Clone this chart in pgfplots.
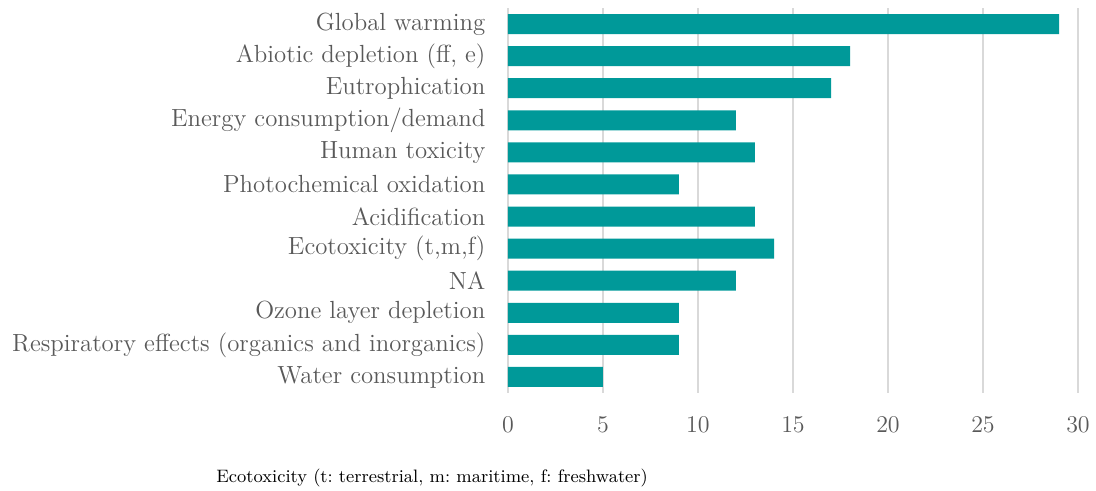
\documentclass[border=0pt]{standalone}
\usepackage{pgfplots}
\pgfplotsset{compat=1.18}
\definecolor{barteal}{RGB}{0,153,153}
\definecolor{labgray}{RGB}{89,89,89}
\definecolor{gridgray}{RGB}{217,217,217}
\begin{document}
\frenchspacing
\begin{tikzpicture}
\path[use as bounding box] (-254pt,-49pt) rectangle (294pt,196.5pt);
\begin{axis}[
  at={(0,0)}, anchor=south west,
  scale only axis, width=285pt, height=192.5pt,
  xbar, bar width=10pt,
  xmin=0, xmax=30, ymin=-0.5, ymax=11.5,
  xtick={0,5,...,30},
  ytick={0,...,11},
  yticklabels={Water consumption,
    Respiratory effects (organics and inorganics),
    Ozone layer depletion,
    NA,
    {Ecotoxicity (t,m,f)},
    Acidification,
    Photochemical oxidation,
    Human toxicity,
    Energy consumption/demand,
    Eutrophication,
    {Abiotic depletion (ff, e)},
    Global warming},
  axis line style={draw=none},
  major tick length=0pt,
  xmajorgrids,
  major grid style={gridgray, line width=1pt},
  tick label style={labgray},
  xticklabel style={anchor=center, yshift=-16pt, font=\fontsize{13}{15}\selectfont},
  yticklabel style={anchor=east, xshift=-7.8pt, font=\fontsize{12.4}{14}\selectfont},
]
\addplot[fill=barteal, draw=none] coordinates {
  (5,0) (9,1) (9,2) (12,3) (14,4) (13,5) (9,6) (13,7) (12,8) (17,9) (18,10) (29,11)};
\end{axis}
\node[anchor=west, inner sep=0pt] at (-146pt,-42.5pt) {\fontsize{9}{11}\selectfont Ecotoxicity (t: terrestrial, m: maritime, f: freshwater)};
\end{tikzpicture}
\end{document}
